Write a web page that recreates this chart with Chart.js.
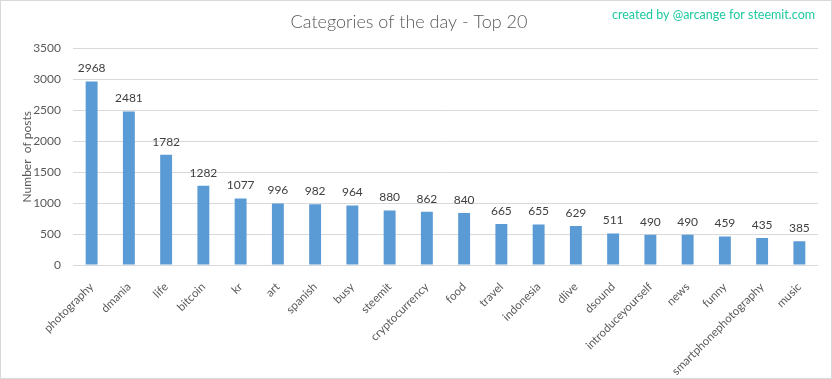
<!DOCTYPE html>
<html>
<head>
<meta charset="utf-8">
<script src="https://cdn.jsdelivr.net/npm/chart.js@4"></script>
<style>
html,body{margin:0;padding:0;background:#fff;}
#wrap{position:relative;width:832px;height:379px;}
canvas{display:block;}
</style>
</head>
<body>
<div id="wrap"><canvas id="c" width="832" height="379"></canvas></div>
<script>
const categories = ["photography","dmania","life","bitcoin","kr","art","spanish","busy","steemit","cryptocurrency","food","travel","indonesia","dlive","dsound","introduceyourself","news","funny","smartphonephotography","music"];
const postCounts = [2968,2481,1782,1282,1077,996,982,964,880,862,840,665,655,629,511,490,490,459,435,385];
const yTicks = [0,500,1000,1500,2000,2500,3000,3500];
const chartTitle = "Categories of the day - Top 20";
const creditText = "created by @arcange for steemit.com";
const yAxisTitle = "Number  of posts";

const FONT = "Lato, 'Open Sans', sans-serif";
const TEXT = "#595959";

const frame = {
  id: 'frame',
  beforeDraw(chart) {
    const ctx = chart.ctx;
    ctx.save();
    ctx.fillStyle = '#fff';
    ctx.fillRect(0, 0, chart.width, chart.height);
    ctx.strokeStyle = '#d9d9d9';
    ctx.lineWidth = 1;
    ctx.strokeRect(0.5, 0.5, chart.width - 1, chart.height - 1);
    ctx.restore();
  },
  afterDraw(chart) {
    const ctx = chart.ctx;
    ctx.save();
    ctx.font = "12.5px " + FONT;
    ctx.fillStyle = '#1fc9a0';
    ctx.textAlign = 'right';
    ctx.textBaseline = 'middle';
    ctx.fillText(creditText, 815, 15);
    ctx.restore();
  }
};

const valueLabels = {
  id: 'valueLabels',
  afterDatasetsDraw(chart) {
    const ctx = chart.ctx;
    const meta = chart.getDatasetMeta(0);
    const data = chart.data.datasets[0].data;
    ctx.save();
    ctx.font = "12px " + FONT;
    ctx.fillStyle = '#404040';
    ctx.textAlign = 'center';
    ctx.textBaseline = 'middle';
    meta.data.forEach((bar, i) => {
      ctx.fillText(String(data[i]), bar.x, bar.y - 13);
    });
    ctx.restore();
  }
};

new Chart(document.getElementById('c'), {
  type: 'bar',
  data: {
    labels: categories,
    datasets: [{
      data: postCounts,
      backgroundColor: '#5b9bd5',
      borderWidth: 0,
      barPercentage: 0.32,
      categoryPercentage: 1.0
    }]
  },
  options: {
    responsive: false,
    animation: false,
    devicePixelRatio: 1,
    layout: { padding: { left: 0, right: 14, top: 0, bottom: 0 } },
    plugins: {
      legend: { display: false },
      tooltip: { enabled: false },
      title: {
        display: true,
        text: chartTitle,
        color: TEXT,
        font: { family: FONT, size: 18, weight: '300' },
        padding: { top: 11, bottom: 16 }
      }
    },
    scales: {
      x: {
        grid: { display: false },
        border: { display: false },
        ticks: {
          color: TEXT,
          font: { family: FONT, size: 11.5 },
          autoSkip: false,
          minRotation: 45,
          maxRotation: 45,
          padding: 7
        },
        afterFit(scale) { scale.height = 114; scale.paddingLeft = 0; scale.paddingRight = 0; }
      },
      y: {
        min: 0,
        max: 3500,
        afterBuildTicks(scale) { scale.ticks = yTicks.map(v => ({ value: v })); },
        grid: { color: '#d9d9d9', drawTicks: false },
        border: { display: false },
        ticks: {
          color: TEXT,
          font: { family: FONT, size: 12 },
          padding: 12,
          callback: (v) => String(v)
        },
        title: {
          display: true,
          text: yAxisTitle,
          color: TEXT,
          font: { family: FONT, size: 12 },
          padding: { top: 20, bottom: 0 }
        },
        afterFit(scale) { scale.width = 73; }
      }
    }
  },
  plugins: [frame, valueLabels]
});
</script>
</body>
</html>
